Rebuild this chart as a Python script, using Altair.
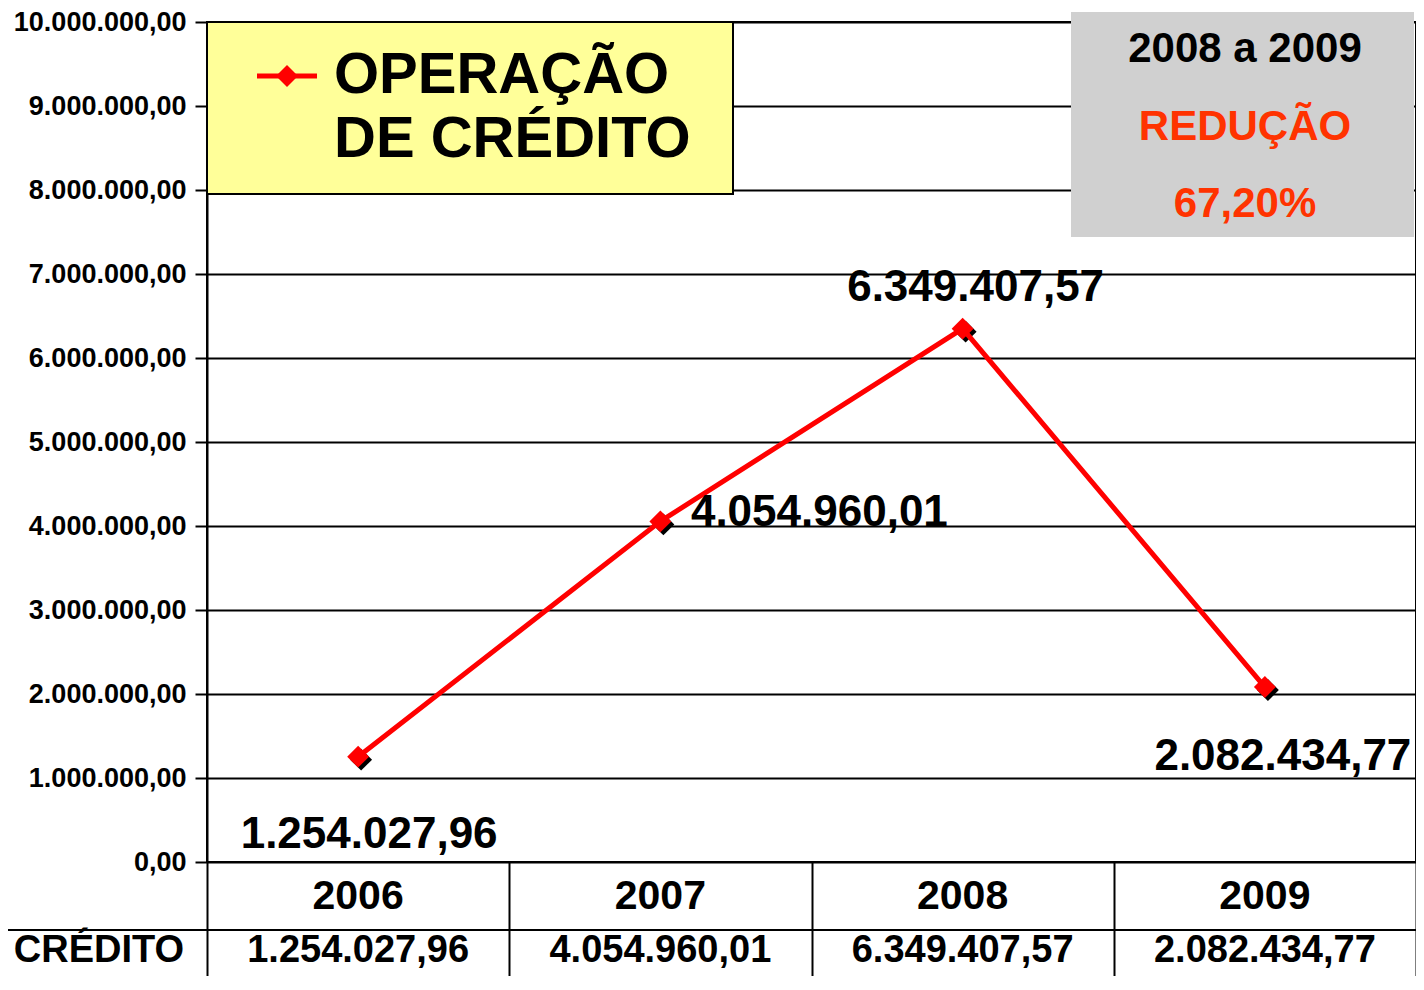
import altair as alt
import pandas as pd

# ---- data ----
anos = ["2006", "2007", "2008", "2009"]
valores = [1254027.96, 4054960.01, 6349407.57, 2082434.77]
y_ticks = [0, 1000000, 2000000, 3000000, 4000000, 5000000,
           6000000, 7000000, 8000000, 9000000, 10000000]
legenda_linhas = ["OPERAÇÃO", "DE CRÉDITO"]
linha_tabela = "CRÉDITO"
caixa_titulo = "2008 a 2009"
caixa_texto = "REDUÇÃO"


def fmt_br(v, casas=2):
    s = f"{v:,.{casas}f}"
    return s.replace(",", "#").replace(".", ",").replace("#", ".")


reducao = (valores[2] - valores[3]) / valores[2] * 100
caixa_pct = fmt_br(reducao) + "%"

df = pd.DataFrame({"ano": anos, "valor": valores,
                   "rotulo": [fmt_br(v) for v in valores]})

# ---- layout / style ----
W, H = 1209, 840
FONT = "Liberation Sans"
RED = "#FF0000"
ORANGE = "#FF3300"

x_enc = alt.X("ano:N",
              scale=alt.Scale(domain=anos, paddingInner=0, paddingOuter=0),
              axis=alt.Axis(labels=False, domain=False, ticks=True,
                            tickBand="extent", tickSize=130, tickWidth=2,
                            tickColor="black", grid=False, title=None))
y_enc = alt.Y("valor:Q",
              scale=alt.Scale(domain=[0, 10000000], nice=False, zero=True),
              axis=alt.Axis(values=y_ticks,
                            labelExpr="replace(replace(replace(format(datum.value, ',.2f'), regexp(',', 'g'), '#'), regexp('[.]', 'g'), ','), regexp('#', 'g'), '.')",
                            labelFontSize=27, labelFont=FONT, labelFontWeight="bold",
                            labelColor="black", labelBaseline="middle",
                            tickSize=12, tickWidth=2, tickColor="black",
                            labelPadding=9, grid=True, gridColor="black",
                            gridWidth=2, domain=True, domainColor="black",
                            domainWidth=2, title=None))

base = alt.Chart(df)

shadow = base.mark_point(shape="diamond", filled=True, size=480, color="black",
                         opacity=1, xOffset=3, yOffset=3).encode(x=x_enc, y=y_enc)
line = base.mark_line(color=RED, strokeWidth=5).encode(x=x_enc, y=y_enc)
pts = base.mark_point(shape="diamond", filled=True, size=480, color=RED,
                      opacity=1).encode(x=x_enc, y=y_enc)

offsets = {"2006": (11, 78), "2007": (159, -8), "2008": (13, -41), "2009": (18, 70)}
label_layers = []
for ano in anos:
    dx, dy = offsets[ano]
    label_layers.append(
        base.transform_filter(alt.datum.ano == ano).mark_text(
            font=FONT, fontWeight="bold", fontSize=44, color="black",
            align="center", baseline="middle", dx=dx, dy=dy
        ).encode(x=x_enc, y=y_enc, text="rotulo:N")
    )

# table rows below the plot
anos_txt = base.mark_text(font=FONT, fontWeight="bold", fontSize=41, color="black",
                          align="center", baseline="middle").encode(
    x=x_enc, y=alt.value(875), text="ano:N")
vals_txt = base.mark_text(font=FONT, fontWeight="bold", fontSize=38, color="black",
                          align="center", baseline="middle").encode(
    x=x_enc, y=alt.value(929), text="rotulo:N")
one = pd.DataFrame({"t": [linha_tabela]})
row_label = alt.Chart(one).mark_text(font=FONT, fontWeight="bold", fontSize=38,
                                     color="black", align="center",
                                     baseline="middle").encode(
    x=alt.value(-108), y=alt.value(929), text="t:N")
row_rule = alt.Chart(one).mark_rule(color="black", strokeWidth=2).encode(
    x=alt.value(-207), x2=alt.value(W), y=alt.value(908))

# legend box
leg_df = pd.DataFrame({"t": ["OPERAÇÃO DE CRÉDITO"]})
leg_box = alt.Chart(leg_df).mark_rect(fill="#FFFF99", stroke="black",
                                      strokeWidth=2).encode(
    x=alt.value(0), x2=alt.value(526), y=alt.value(0), y2=alt.value(172))
leg_line = alt.Chart(leg_df).mark_rule(color=RED, strokeWidth=5).encode(
    x=alt.value(50), x2=alt.value(110), y=alt.value(54))
leg_pt = alt.Chart(leg_df).mark_point(shape="diamond", filled=True, size=480,
                                      color=RED, opacity=1).encode(
    x=alt.value(80), y=alt.value(54))
leg_txt = []
for i, t in enumerate(legenda_linhas):
    leg_txt.append(
        alt.Chart(pd.DataFrame({"t": [t]})).mark_text(
            font=FONT, fontWeight="bold", fontSize=58, color="black",
            align="left", baseline="middle").encode(
            x=alt.value(127), y=alt.value(54 + 64 * i), text="t:N"))

# gray info box
box_df = pd.DataFrame({"t": [caixa_titulo]})
gray_box = alt.Chart(box_df).mark_rect(fill="#D0D0D0").encode(
    x=alt.value(864), x2=alt.value(1207), y=alt.value(-10), y2=alt.value(215))
box_txt = []
for t, c, yy in [(caixa_titulo, "black", 27), (caixa_texto, ORANGE, 105),
                 (caixa_pct, ORANGE, 182)]:
    box_txt.append(
        alt.Chart(pd.DataFrame({"t": [t]})).mark_text(
            font=FONT, fontWeight="bold", fontSize=42, color=c,
            align="center", baseline="middle").encode(
            x=alt.value(1038), y=alt.value(yy), text="t:N"))

chart = alt.layer(
    shadow, line, pts, *label_layers, anos_txt, vals_txt, row_label, row_rule,
    leg_box, leg_line, leg_pt, *leg_txt, gray_box, *box_txt
).properties(
    width=W, height=H,
    autosize=alt.AutoSizeParams(type="none"),
    padding={"left": 199, "top": 14, "right": 0, "bottom": 114},
    background="white",
).configure_view(stroke="black", strokeWidth=2)

chart.save("out.html", embed_options={"renderer": "svg", "actions": False})
